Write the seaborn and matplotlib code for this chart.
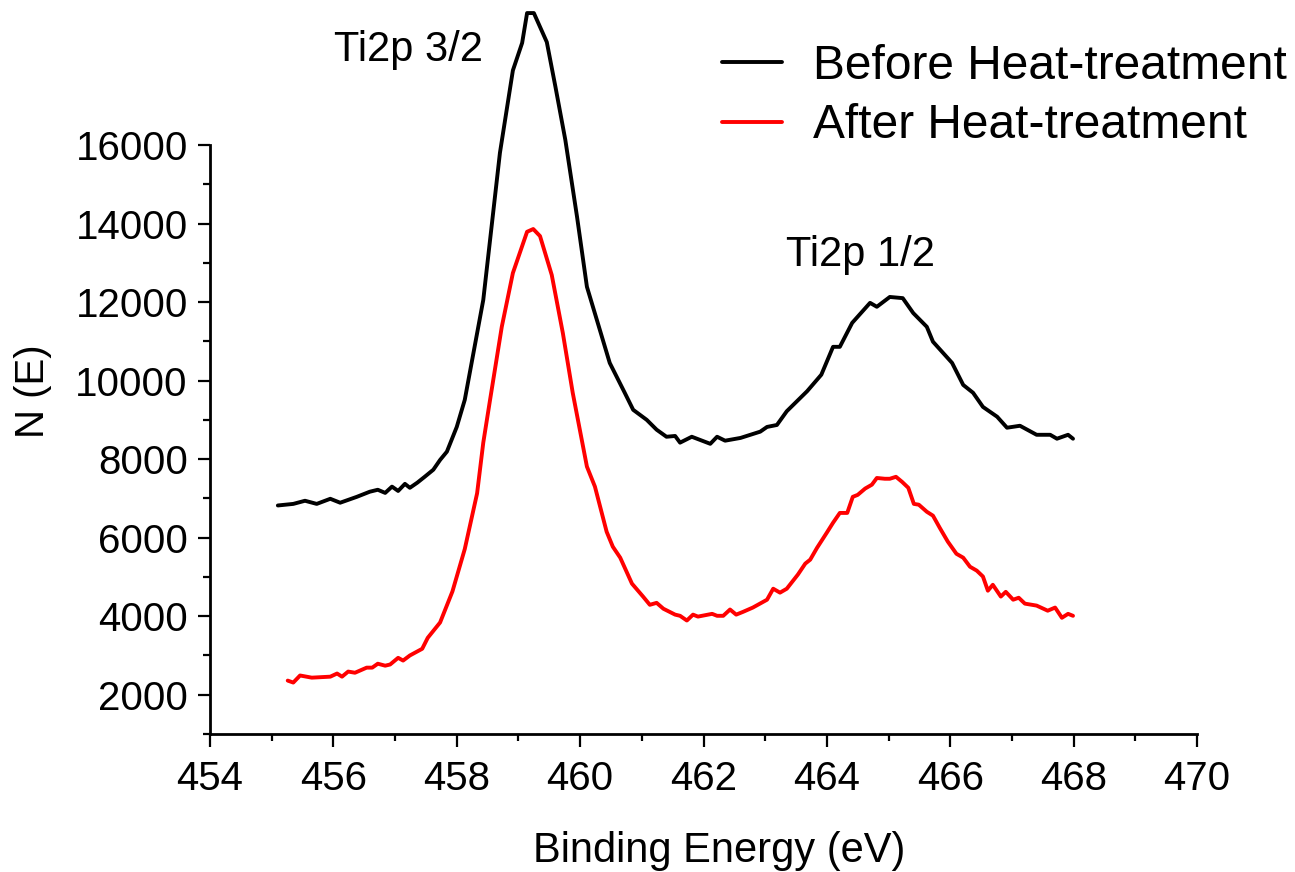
import matplotlib
matplotlib.use("Agg")
import matplotlib.pyplot as plt
import seaborn as sns
import pandas as pd
from matplotlib.ticker import MultipleLocator
from matplotlib.lines import Line2D

# ---- data ----
before_x = [455.10, 455.35, 455.54, 455.73, 455.95, 456.11, 456.38, 456.59, 456.72, 456.84,
            456.95, 457.05, 457.16, 457.24, 457.36, 457.48, 457.62, 457.73, 457.84, 458.00,
            458.13, 458.43, 458.70, 458.91, 459.06, 459.14, 459.25, 459.46, 459.60, 459.76,
            459.95, 460.11, 460.32, 460.48, 460.72, 460.86, 461.08, 461.24, 461.40, 461.54,
            461.62, 461.81, 462.11, 462.22, 462.35, 462.60, 462.92, 463.03, 463.19, 463.35,
            463.68, 463.91, 464.10, 464.21, 464.41, 464.70, 464.81, 465.02, 465.23, 465.40,
            465.62, 465.72, 466.03, 466.21, 466.37, 466.53, 466.76, 466.92, 467.13, 467.40,
            467.62, 467.73, 467.91, 467.99]
before_y = [6820, 6860, 6940, 6860, 6990, 6890, 7040, 7170, 7220, 7140,
            7300, 7190, 7370, 7270, 7400, 7550, 7730, 7980, 8190, 8820,
            9510, 12055, 15800, 17900, 18600, 19360, 19360, 18620, 17480, 16130,
            14170, 12390, 11290, 10450, 9700, 9256, 9000, 8750, 8570, 8590,
            8420, 8570, 8390, 8570, 8470, 8540, 8700, 8820, 8870, 9220,
            9730, 10150, 10860, 10860, 11470, 11980, 11880, 12130, 12100, 11720,
            11370, 10990, 10450, 9890, 9690, 9330, 9080, 8800, 8850, 8620,
            8620, 8520, 8620, 8520]

after_x = [455.26, 455.35, 455.46, 455.65, 455.95, 456.06, 456.14, 456.24, 456.35, 456.54,
           456.63, 456.72, 456.84, 456.92, 457.05, 457.13, 457.24, 457.44, 457.53, 457.73,
           457.93, 458.13, 458.33, 458.43, 458.54, 458.73, 458.91, 459.14, 459.24, 459.35,
           459.54, 459.72, 459.88, 460.11, 460.24, 460.43, 460.53, 460.65, 460.84, 461.02,
           461.13, 461.24, 461.35, 461.54, 461.62, 461.73, 461.83, 461.91, 462.14, 462.22,
           462.32, 462.43, 462.53, 462.64, 462.80, 463.03, 463.13, 463.24, 463.35, 463.45,
           463.53, 463.65, 463.73, 463.84, 464.00, 464.10, 464.21, 464.33, 464.42, 464.50,
           464.62, 464.73, 464.81, 464.94, 465.02, 465.12, 465.22, 465.32, 465.41, 465.49,
           465.62, 465.72, 465.83, 465.96, 466.10, 466.21, 466.32, 466.43, 466.53, 466.61,
           466.69, 466.82, 466.90, 467.02, 467.11, 467.21, 467.40, 467.58, 467.70, 467.81,
           467.91, 467.99]
after_y = [2360, 2310, 2490, 2435, 2460, 2540, 2460, 2590, 2560, 2690,
           2690, 2790, 2740, 2770, 2940, 2870, 3000, 3170, 3450, 3840,
           4630, 5710, 7130, 8420, 9510, 11370, 12740, 13790, 13860, 13680,
           12690, 11210, 9690, 7810, 7300, 6150, 5770, 5490, 4830, 4500,
           4290, 4340, 4190, 4040, 4010, 3890, 4040, 3990, 4060, 4010,
           4010, 4170, 4040, 4110, 4220, 4420, 4700, 4600, 4700, 4900,
           5060, 5340, 5440, 5740, 6130, 6380, 6630, 6630, 7040, 7090,
           7250, 7350, 7520, 7500, 7500, 7550, 7420, 7270, 6860, 6840,
           6660, 6560, 6250, 5900, 5590, 5490, 5260, 5160, 5010, 4650,
           4800, 4500, 4620, 4420, 4470, 4320, 4270, 4140, 4220, 3960,
           4060, 4010]

series_labels = ["Before Heat-treatment", "After Heat-treatment"]
series_colors = ["#000000", "#ff0000"]
peak_labels = ["Ti2p 3/2", "Ti2p 1/2"]
peak_pos = [(457.21, 18420), (464.55, 13200)]
xticks = [454, 456, 458, 460, 462, 464, 466, 468, 470]
yticks = [2000, 4000, 6000, 8000, 10000, 12000, 14000, 16000]

df = pd.concat([
    pd.DataFrame({"x": before_x, "y": before_y, "s": series_labels[0]}),
    pd.DataFrame({"x": after_x, "y": after_y, "s": series_labels[1]}),
])

sns.set_theme(style="ticks")
plt.rcParams["font.family"] = ["Liberation Sans", "DejaVu Sans"]
plt.rcParams["text.color"] = "black"

fig = plt.figure(figsize=(12.95, 8.72), dpi=100)
ax = fig.add_axes([210 / 1295, 1 - 734 / 872, 987 / 1295, 589 / 872])

sns.lineplot(data=df, x="x", y="y", hue="s", palette=series_colors, ax=ax,
             estimator=None, sort=False, linewidth=2.8, legend=False)
for ln in ax.lines:
    ln.set_clip_on(False)

ax.set_xlim(454, 470)
ax.set_ylim(1000, 16000)
ax.set_xticks(xticks)
ax.set_yticks(yticks)
ax.xaxis.set_minor_locator(MultipleLocator(1))
ax.yaxis.set_minor_locator(MultipleLocator(1000))
ax.tick_params(axis="both", which="major", length=9, width=1.6, labelsize=29,
               direction="out", color="black", labelcolor="black")
ax.tick_params(axis="x", which="major", pad=10)
ax.tick_params(axis="y", which="major", pad=7)
ax.tick_params(axis="both", which="minor", length=5, width=1.6, direction="out", color="black")
for sp in ["top", "right"]:
    ax.spines[sp].set_visible(False)
for sp in ["left", "bottom"]:
    ax.spines[sp].set_linewidth(2)
    ax.spines[sp].set_color("black")

ax.set_xlabel("Binding Energy (eV)", fontsize=30, color="black")
ax.set_ylabel("N (E)", fontsize=29, color="black")
ax.xaxis.set_label_coords(0.516, -0.165)
ax.yaxis.set_label_coords(-0.160, 0.582)

for lab, (px, py) in zip(peak_labels, peak_pos):
    ax.text(px, py, lab, fontsize=30, ha="center", va="center", color="black", clip_on=False)

handles = [Line2D([], [], color=c, lw=2.8) for c in series_colors]
leg = fig.legend(handles, series_labels, loc="upper left", bbox_to_anchor=(722 / 1295, 1 - 44 / 872),
                 frameon=False, fontsize=34.5, handlelength=1.25, handletextpad=0.65,
                 labelspacing=0.3, borderpad=0, borderaxespad=0)
for t in leg.get_texts():
    t.set_color("black")

fig.savefig("out.png", dpi=100, facecolor="white")
